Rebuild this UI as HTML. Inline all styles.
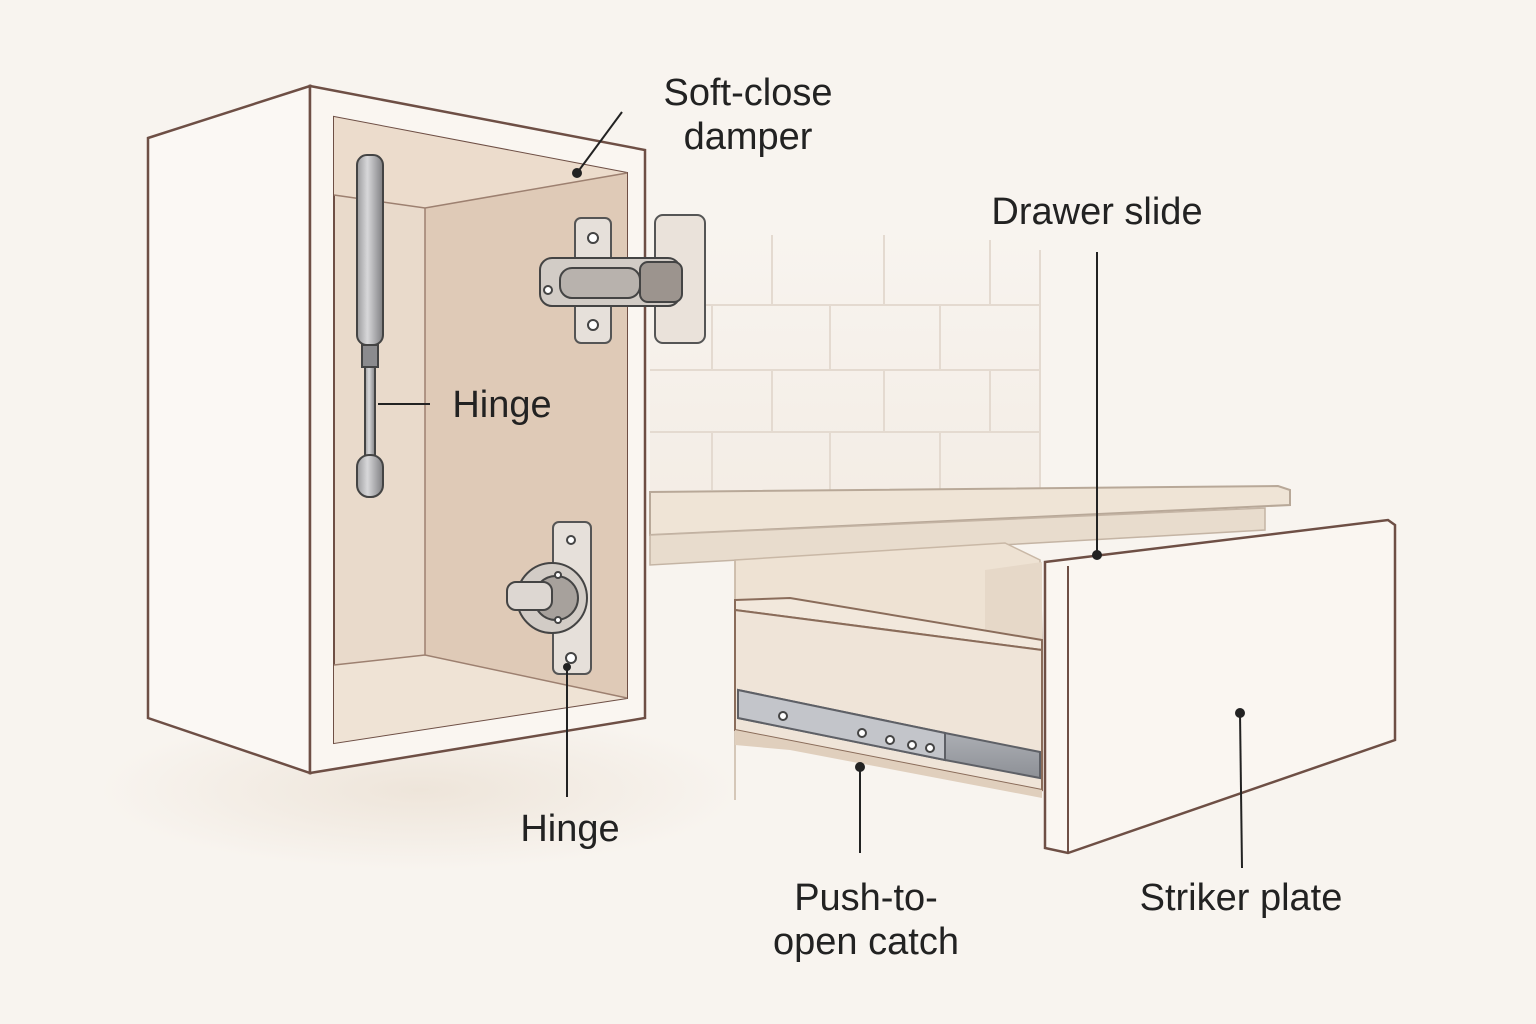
<!DOCTYPE html>
<html><head><meta charset="utf-8"><style>
html,body{margin:0;padding:0;background:#f8f4ef;}
svg{display:block}
text{font-family:"Liberation Sans",sans-serif;fill:#222;font-size:38px;}
</style></head><body>
<svg width="1536" height="1024" viewBox="0 0 1536 1024" xmlns="http://www.w3.org/2000/svg">
<defs>
<linearGradient id="wall" x1="0" y1="0" x2="0" y2="1"><stop offset="0" stop-color="#f8f4ef"/><stop offset="1" stop-color="#efe6dc"/></linearGradient>
<linearGradient id="slide" x1="0" y1="0" x2="0" y2="1"><stop offset="0" stop-color="#c9cbd0"/><stop offset="1" stop-color="#8d9096"/></linearGradient>
<linearGradient id="rod" x1="0" y1="0" x2="1" y2="0"><stop offset="0" stop-color="#9a9a9c"/><stop offset="0.4" stop-color="#d8d8da"/><stop offset="1" stop-color="#7f7f82"/></linearGradient>
<radialGradient id="shd" cx="0.5" cy="0.5" r="0.5"><stop offset="0" stop-color="#eee5da"/><stop offset="1" stop-color="#f8f4ef"/></radialGradient>
</defs>
<rect width="1536" height="1024" fill="#f8f4ef"/>
<ellipse cx="420" cy="790" rx="320" ry="80" fill="url(#shd)"/>
<rect x="650" y="230" width="390" height="262" fill="url(#wall)" opacity="0.5"/>
<g stroke="#e4dad0" stroke-width="2" fill="none">
<line x1="650" y1="305" x2="1040" y2="305"/><line x1="650" y1="370" x2="1040" y2="370"/><line x1="650" y1="432" x2="1040" y2="432"/>
<line x1="772" y1="235" x2="772" y2="305"/><line x1="884" y1="235" x2="884" y2="305"/><line x1="990" y1="240" x2="990" y2="305"/>
<line x1="712" y1="305" x2="712" y2="370"/><line x1="830" y1="305" x2="830" y2="370"/><line x1="940" y1="305" x2="940" y2="370"/>
<line x1="772" y1="370" x2="772" y2="432"/><line x1="884" y1="370" x2="884" y2="432"/><line x1="990" y1="370" x2="990" y2="432"/>
<line x1="712" y1="432" x2="712" y2="490"/><line x1="830" y1="432" x2="830" y2="490"/><line x1="940" y1="432" x2="940" y2="490"/>
<line x1="1040" y1="250" x2="1040" y2="490"/>
</g>
<polygon points="650,492 1278,486 1290,490 1290,505 650,535" fill="#efe4d6" stroke="#b8a898" stroke-width="2"/>
<polygon points="650,535 1265,508 1265,530 650,565" fill="#e8dccd" stroke="#c4b4a4" stroke-width="1.5"/>
<polygon points="735,560 1005,543 1040,560 1042,640 735,600" fill="#eee2d3" stroke="#c9b8a6" stroke-width="1.5"/>
<polygon points="985,570 1042,562 1042,640 985,630" fill="#e6d8c8"/>
<line x1="735" y1="560" x2="735" y2="800" stroke="#c9b8a6" stroke-width="1.5"/>
<polygon points="735,600 790,598 1042,640 1042,650 735,610" fill="#f2e8dc" stroke="#8a6c5a" stroke-width="2"/>
<polygon points="735,610 1042,650 1042,790 735,730" fill="#efe4d8" stroke="#8a6c5a" stroke-width="2"/>
<polygon points="735,730 1042,790 1042,798 790,750 735,745" fill="#e0cfbd"/>
<polygon points="738,690 945,733 1040,752 1040,778 945,760 738,718" fill="url(#slide)" stroke="#5e6066" stroke-width="2"/>
<polygon points="738,690 945,733 945,760 738,718" fill="#c3c5ca" stroke="#5e6066" stroke-width="2"/>
<g fill="#fff" stroke="#444" stroke-width="2">
<circle cx="783" cy="716" r="4"/><circle cx="862" cy="733" r="4"/><circle cx="890" cy="740" r="4"/><circle cx="912" cy="745" r="4"/><circle cx="930" cy="748" r="4"/>
</g>
<polygon points="1045,562 1388,520 1395,525 1395,740 1068,853 1045,848" fill="#faf6f1" stroke="#6e4f45" stroke-width="2.5"/>
<line x1="1068" y1="566" x2="1068" y2="853" stroke="#6e4f45" stroke-width="2"/>
<polygon points="148,138 310,86 310,773 148,718" fill="#fbf8f4" stroke="#6e4f45" stroke-width="2.5"/>
<polygon points="310,86 645,150 645,718 310,773" fill="#faf6f1" stroke="#6e4f45" stroke-width="2.5"/>
<polygon points="334,117 627,173 627,698 334,743" fill="#e9dacb" stroke="#6e4f45" stroke-width="2"/>
<polygon points="425,208 627,173 627,698 425,655" fill="#dfcab7"/>
<polygon points="334,117 627,173 425,208 334,195" fill="#ecdccc"/>
<polygon points="334,665 425,655 627,698 334,743" fill="#efe3d5"/>
<g stroke="#9d8070" stroke-width="1.5" fill="none">
<polyline points="334,195 425,208 627,173"/><line x1="425" y1="208" x2="425" y2="655"/><polyline points="334,665 425,655 627,698"/>
</g>
<rect x="357" y="155" width="26" height="190" rx="10" fill="url(#rod)" stroke="#444" stroke-width="2"/>
<rect x="362" y="345" width="16" height="22" fill="#8b8b8e" stroke="#444" stroke-width="2"/>
<rect x="365" y="367" width="10" height="90" fill="url(#rod)" stroke="#444" stroke-width="2"/>
<rect x="357" y="455" width="26" height="42" rx="12" fill="url(#rod)" stroke="#444" stroke-width="2"/>
<rect x="655" y="215" width="50" height="128" rx="8" fill="#eae2da" stroke="#555" stroke-width="2"/>
<rect x="575" y="218" width="36" height="125" rx="6" fill="#e6e0da" stroke="#555" stroke-width="2"/>
<rect x="540" y="258" width="140" height="48" rx="12" fill="#d2ccc6" stroke="#444" stroke-width="2"/>
<rect x="560" y="268" width="80" height="30" rx="12" fill="#b8b2ad" stroke="#444" stroke-width="2"/>
<rect x="640" y="262" width="42" height="40" rx="8" fill="#9c948e" stroke="#444" stroke-width="2"/>
<g fill="#fff" stroke="#444" stroke-width="2"><circle cx="593" cy="238" r="5"/><circle cx="593" cy="325" r="5"/><circle cx="548" cy="290" r="4"/></g>
<rect x="553" y="522" width="38" height="152" rx="6" fill="#e6e0da" stroke="#555" stroke-width="2"/>
<circle cx="552" cy="598" r="35" fill="#d2ccc6" stroke="#444" stroke-width="2"/>
<circle cx="556" cy="598" r="22" fill="#a7a19c" stroke="#444" stroke-width="2"/>
<rect x="507" y="582" width="45" height="28" rx="9" fill="#ddd7d2" stroke="#444" stroke-width="2"/>
<g fill="#fff" stroke="#444" stroke-width="2"><circle cx="571" cy="540" r="4"/><circle cx="571" cy="658" r="5"/><circle cx="558" cy="575" r="3"/><circle cx="558" cy="620" r="3"/></g>
<g stroke="#222" stroke-width="2" fill="#222">
<line x1="622" y1="112" x2="577" y2="173"/><circle cx="577" cy="173" r="4"/>
<line x1="1097" y1="252" x2="1097" y2="555"/><circle cx="1097" cy="555" r="4"/>
<line x1="430" y1="404" x2="378" y2="404"/>
<line x1="567" y1="667" x2="567" y2="797"/><circle cx="567" cy="667" r="3"/>
<line x1="860" y1="767" x2="860" y2="853"/><circle cx="860" cy="767" r="4"/>
<line x1="1240" y1="713" x2="1242" y2="868"/><circle cx="1240" cy="713" r="4"/>
</g>
<text x="748" y="105" text-anchor="middle">Soft-close</text>
<text x="748" y="149" text-anchor="middle">damper</text>
<text x="1097" y="224" text-anchor="middle">Drawer slide</text>
<text x="502" y="417" text-anchor="middle">Hinge</text>
<text x="570" y="841" text-anchor="middle">Hinge</text>
<text x="866" y="910" text-anchor="middle">Push-to-</text>
<text x="866" y="954" text-anchor="middle">open catch</text>
<text x="1241" y="910" text-anchor="middle">Striker plate</text>
</svg>
</body></html>
